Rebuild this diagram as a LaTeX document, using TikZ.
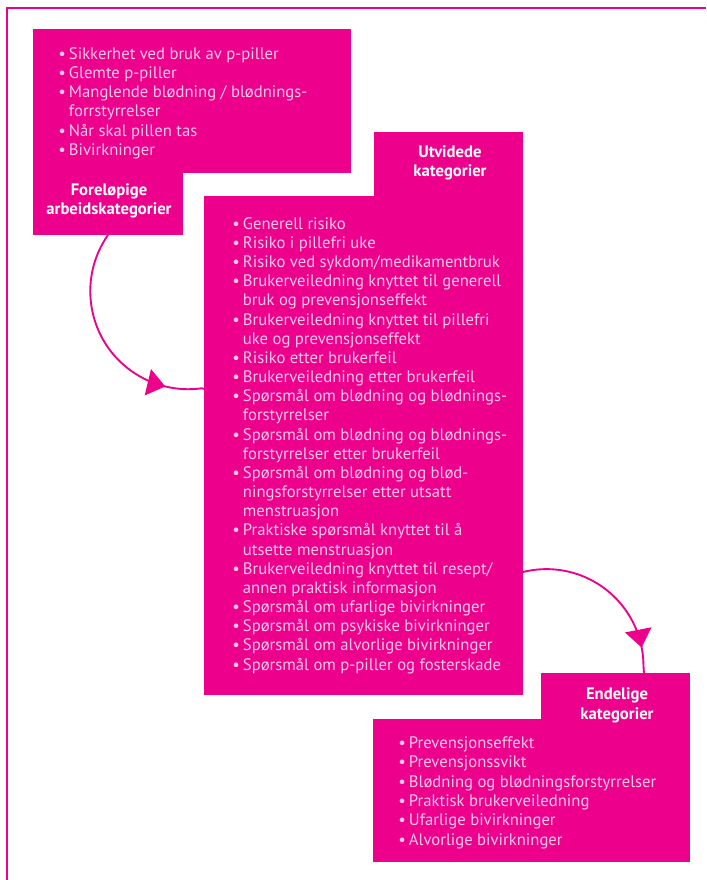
\documentclass[tikz,border=0pt]{standalone}
\usepackage{fontspec}
\setmainfont{PT Sans}
\usetikzlibrary{arrows.meta,decorations.markings}
\definecolor{mag}{HTML}{EC008C}
\definecolor{soft}{HTML}{FBC8E6}
\newcommand{\itm}{\makebox[8pt][l]{\textbullet}}
\newcommand{\cont}{\hspace*{8pt}}

\begin{document}
\begin{tikzpicture}[x=0.75pt,y=-0.75pt,
    list/.style={anchor=base west,inner sep=0pt,align=left,text=soft,
      font=\fontsize{12.5}{14.45}\selectfont},
    head/.style={anchor=base,inner sep=0pt,align=center,text=white,
      font=\bfseries\fontsize{12.5}{14.3}\selectfont},
    flow/.style={mag,line width=1.4pt,postaction={decorate,
      decoration={markings,mark=at position #1 with
        {\arrow{Triangle[length=13.5pt,width=20pt]}}}}}]
  \useasboundingbox (0,0) rectangle (706,880);

  % frame
  \draw[mag,line width=0.8pt] (7,880) -- (7,8) -- (706,8);

  % boxes
  \fill[mag] (33,29) rectangle (351,173);
  \fill[mag] (33,173) rectangle (183,235);
  \fill[mag] (374,132) rectangle (523,196);
  \fill[mag] (204,196) rectangle (523,695);
  \fill[mag] (541,673) rectangle (690,719);
  \fill[mag] (373,719) rectangle (690,862);

  % headings (anchored at the last line)
  \node[head] (f-head) at (109,215) {Foreløpige\\arbeidskategorier};
  \node[head] (u-head) at (450,177) {Utvidede\\kategorier};
  \node[head] (e-head) at (617,719) {Endelige\\kategorier};

  % lists (anchored at the last line)
  \node[list] (f-list) at (58,155.5) {%
    \itm Sikkerhet ved bruk av p-piller\\
    \itm Glemte p-piller\\
    \itm Manglende blødning / blødnings-\\
    \cont forrstyrrelser\\
    \itm Når skal pillen tas\\
    \itm Bivirkninger};
  \node[list,font=\fontsize{12.5}{14.37}\selectfont] (u-list) at (232,670) {%
    \itm Generell risiko\\
    \itm Risiko i pillefri uke\\
    \itm Risiko ved sykdom/medikamentbruk\\
    \itm Brukerveiledning knyttet til generell\\
    \cont bruk og prevensjonseffekt\\
    \itm Brukerveiledning knyttet til pillefri\\
    \cont uke og prevensjonseffekt\\
    \itm Risiko etter brukerfeil\\
    \itm Brukerveiledning etter brukerfeil\\
    \itm Spørsmål om blødning og blødnings-\\
    \cont forstyrrelser\\
    \itm Spørsmål om blødning og blødnings-\\
    \cont forstyrrelser etter brukerfeil\\
    \itm Spørsmål om blødning og blød-\\
    \cont ningsforstyrrelser etter utsatt\\
    \cont menstruasjon\\
    \itm Praktiske spørsmål knyttet til å\\
    \cont utsette menstruasjon\\
    \itm Brukerveiledning knyttet til resept/\\
    \cont annen praktisk informasjon\\
    \itm Spørsmål om ufarlige bivirkninger\\
    \itm Spørsmål om psykiske bivirkninger\\
    \itm Spørsmål om alvorlige bivirkninger\\
    \itm Spørsmål om p-piller og fosterskade};
  \node[list] (e-list) at (398,845) {%
    \itm Prevensjonseffekt\\
    \itm Prevensjonssvikt\\
    \itm Blødning og blødningsforstyrrelser\\
    \itm Praktisk brukerveiledning\\
    \itm Ufarlige bivirkninger\\
    \itm Alvorlige bivirkninger};

  % connectors
  \coordinate (f-out) at (108,235);
  \coordinate (u-in) at (204,389);
  \coordinate (u-out) at (523,572);
  \coordinate (e-in) at (644,673);
  \draw[flow=0.83] (f-out) arc[start angle=215,end angle=82,radius=98] -- (u-in);
  \draw[flow=0.86] (u-out) arc[start angle=256,end angle=360,radius=97] -- (e-in);
\end{tikzpicture}
\end{document}
